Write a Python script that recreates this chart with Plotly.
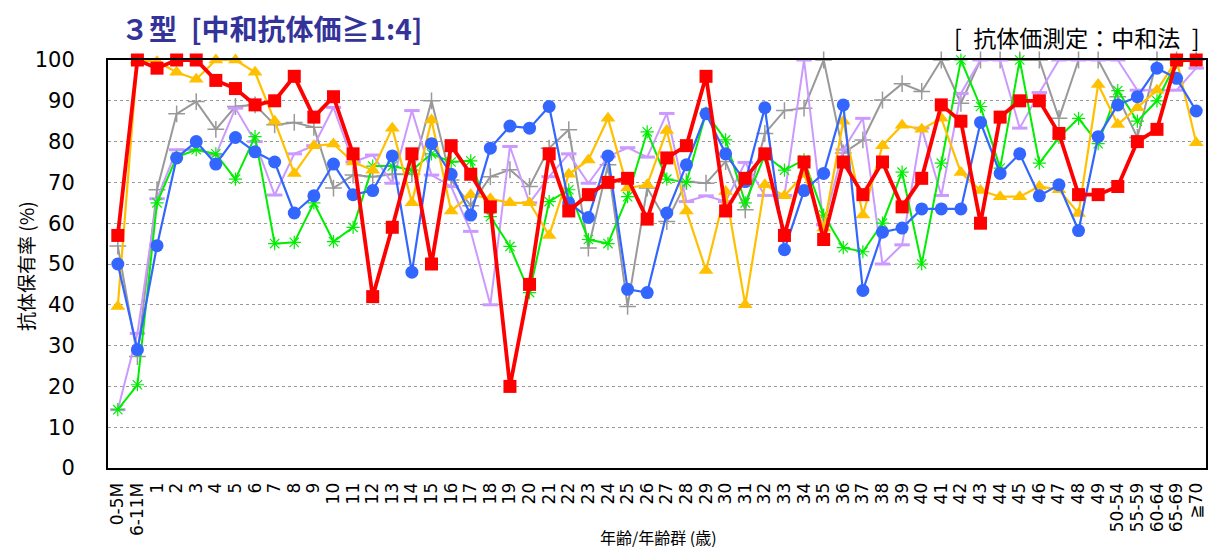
import plotly.graph_objects as go

categories = ["0-5M", "6-11M"] + [str(a) for a in range(1, 50)] + ["50-54", "55-59", "60-64", "65-69", "≧70"]

gray_vals = [54.4, 27.3, 68.2, 86.8, 89.8, 83, 88.6, 89, 84.1, 84.7, 83.5, 68.6, 71.8, 71.4, 72, 72,
             90, 70.6, 64.3, 71.4, 73.1, 69, 78.4, 82.9, 53.9, 74.3, 39.6, 68.6, 60.4, 70.2, 69.8, 75.1,
             63.3, 82, 87.6, 88.2, 100, 77.2, 80.4, 90.2, 94.2, 92.3, 100, 89.4, 100, 100, 100, 100,
             85.7, 100, 100, 91, 81, 100, 100, 100]
lavender_vals = [14.3, 33, 66, 78, 78, 76.7, 88.2, 80, 66.9, 77, 79, 88.4, 75, 76.7, 69.8, 87.6,
                 71.8, 69, 58, 40, 78.8, 65, 71.4, 77, 69.8, 76.3, 78.5, 76.2, 86.9, 65.3, 66.7, 65.3,
                 74.9, 66.8, 66.8, 100, 59.6, 78, 85.7, 50, 54.7, 83.3, 66.8, 91.8, 100, 100, 83.3, 92,
                 100, 100, 100, 100, 92.6, 92.6, 92.6, 98]
green_vals = [14.3, 20.4, 65, 76.2, 78, 77, 70.8, 81.2, 55, 55.3, 65, 55.5, 59, 74, 74, 73,
              77, 75, 75.3, 61.6, 54.3, 43, 65.3, 68.2, 56, 55, 66.5, 82.4, 70.8, 70, 87, 80.4,
              65, 76.7, 73, 75.5, 62, 54, 53, 60, 72.5, 50, 74.7, 100, 88.6, 73.5, 100, 74.7,
              81, 85.7, 79.5, 92.5, 85, 90, 99.5, 100]
yellow_vals = [39.6, 100, 99.6, 97, 95.3, 100, 100, 97, 85, 72.2, 79, 79.4, 75, 73, 83.3, 65,
               85.3, 63, 67, 66, 65, 65, 57, 72, 75.5, 85.7, 68.6, 69.4, 82.7, 63, 48.4, 67.8,
               40, 69.4, 66.7, 72, 58.8, 85, 62, 79, 84, 83, 85.7, 72.4, 68, 66.5, 66.5, 69,
               68.2, 62.4, 94, 84.2, 88.3, 92.6, 100, 79.7]
blue_vals = [50, 29, 54.5, 76, 80, 74.5, 81, 77.5, 75, 62.5, 66.7, 74.5, 67, 68, 76.5, 48,
             79.5, 72, 62, 78.4, 83.8, 83.3, 88.6, 65, 61.4, 76.5, 43.8, 43, 62.5, 74.3, 86.8, 77,
             70.2, 88.3, 53.5, 68, 72.2, 89, 43.5, 57.8, 58.8, 63.5, 63.5, 63.5, 84.7, 72.2, 77, 66.7,
             69.4, 58.2, 81.2, 89, 91, 98, 95.5, 87.5]
red_vals = [57, 100, 98, 100, 100, 95, 93, 89, 90, 96, 86, 91, 77, 42, 59, 77,
            50, 79, 72, 64, 20, 45, 77, 63, 67, 70, 71, 61, 76, 79, 96, 63,
            71, 77, 57, 75, 56, 75, 67, 75, 64, 71, 89, 85, 60, 86, 90, 90,
            82, 67, 67, 69, 80, 83, 100, 100]

y_ticks = list(range(0, 101, 10))

series = [
    (gray_vals, "#999999", 2, "cross-thin-open", 12, 1.5),
    (lavender_vals, "#CC99FF", 2, "line-ew-open", 11, 3),
    (green_vals, "#00EE00", 2, "asterisk-open", 11, 1.2),
    (yellow_vals, "#FFC000", 2.2, "triangle-up", 13, 0),
    (blue_vals, "#3366FF", 2.2, "circle", 13, 0),
    (red_vals, "#FF0000", 3.8, "square", 13, 0),
]

fig = go.Figure()
for vals, color, lw, sym, ms, mlw in series:
    fig.add_trace(go.Scatter(
        x=categories, y=vals, mode="lines+markers",
        line=dict(color=color, width=lw),
        marker=dict(symbol=sym, size=ms, color=color, line=dict(color=color, width=mlw)),
        showlegend=False, cliponaxis=False,
    ))

L, R, T, B = 108, 8, 60, 82
W, H = 1214, 550
plot_w = W - L - R
plot_h = H - T - B


def px_x(px):
    return (px - L) / plot_w


def px_y(py):
    return 1 + (T - py) / plot_h


font_fam = "DejaVu Sans, Noto Sans CJK JP, sans-serif"
cjk = "Noto Sans CJK JP"
fig.update_layout(
    width=W, height=H,
    margin=dict(l=L, r=R, t=T, b=B, autoexpand=False),
    paper_bgcolor="white", plot_bgcolor="white",
    font=dict(family=font_fam, color="black"),
    xaxis=dict(
        type="category", categoryorder="array", categoryarray=categories,
        range=[-0.5, len(categories) - 0.5], automargin=False,
        tickmode="linear", tick0=0, dtick=1,
        tickangle=-90, tickfont=dict(size=17, family=font_fam),
        showgrid=False, showline=True, linecolor="black", linewidth=2, mirror=True,
        ticks="", ticklabelstandoff=6,
    ),
    yaxis=dict(
        range=[0, 100], tickvals=y_ticks, tickfont=dict(size=21, family=font_fam),
        showgrid=True, gridcolor="#999999", griddash="dot", gridwidth=1,
        showline=True, linecolor="black", linewidth=2, mirror=True, automargin=False,
        ticks="", ticklabelstandoff=27, zeroline=False,
    ),
    annotations=[
        dict(text="<b>３型\u2002[中和抗体価≧1:4]</b>", x=px_x(119), y=px_y(28), xref="paper", yref="paper",
             showarrow=False, xanchor="left", yanchor="middle",
             font=dict(size=28, color="#333399", family=cjk)),
        dict(text="[\u2002抗体価測定：中和法\u2002]", x=px_x(1202), y=px_y(37), xref="paper", yref="paper",
             showarrow=False, xanchor="right", yanchor="middle",
             font=dict(size=23, color="black", family=cjk)),
        dict(text="年齢/年齢群 (歳)", x=px_x(658), y=px_y(537), xref="paper", yref="paper",
             showarrow=False, xanchor="center", yanchor="middle",
             font=dict(size=16, color="black", family=cjk)),
        dict(text="抗体保有率 (%)", x=px_x(25), y=px_y(266), xref="paper", yref="paper",
             showarrow=False, xanchor="center", yanchor="middle", textangle=-90,
             font=dict(size=19, color="black", family=cjk)),
    ],
)

fig.write_html("out.html", config={"displayModeBar": False},
               post_script="document.body.style.margin='0';document.body.style.overflow='hidden';")
